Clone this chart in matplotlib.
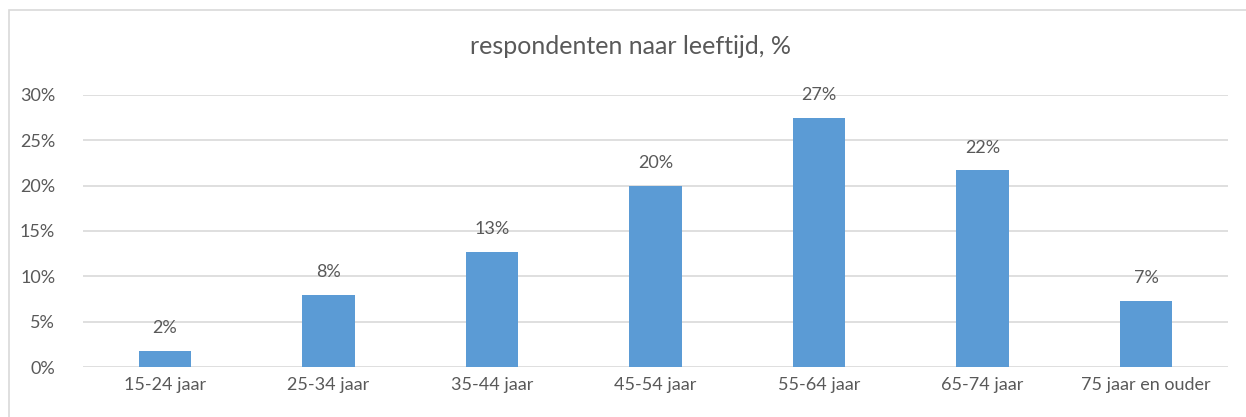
import matplotlib.pyplot as plt
from matplotlib.patches import Rectangle

# data
categories = ['15-24 jaar', '25-34 jaar', '35-44 jaar', '45-54 jaar',
              '55-64 jaar', '65-74 jaar', '75 jaar en ouder']
values = [1.75, 7.95, 12.7, 20.0, 27.45, 21.7, 7.3]
labels = ['2%', '8%', '13%', '20%', '27%', '22%', '7%']
yticks = [0, 5, 10, 15, 20, 25, 30]

plt.rcParams['font.family'] = ['Lato', 'DejaVu Sans']
txt = '#595959'
fs = 13

fig = plt.figure(figsize=(12.46, 4.17), dpi=100)

# light chart frame (Excel style), only top and left visible
fig.patches.append(Rectangle((9 / 1246, -0.1), 1.2, 1.1 - 10 / 417,
                             transform=fig.transFigure, fill=False,
                             edgecolor='#D9D9D9', linewidth=1.2))

ax = fig.add_axes([83 / 1246, 1 - 367 / 417, (1228 - 83) / 1246, (367 - 95) / 417])

x = range(len(categories))
ax.bar(x, values, width=0.32, color='#5B9BD5', zorder=3)

for xi, v, lab in zip(x, values, labels):
    ax.text(xi, v + 2.5, lab, ha='center', va='center', fontsize=fs, color=txt)

ax.set_xlim(-0.5, len(categories) - 0.5)
ax.set_ylim(0, 30)
ax.set_yticks(yticks)
ax.set_yticklabels([f'{t}%' for t in yticks])
ax.set_xticks(list(x))
ax.set_xticklabels(categories)
ax.tick_params(axis='both', length=0, labelsize=fs, labelcolor=txt)
ax.tick_params(axis='y', pad=20)
ax.tick_params(axis='x', pad=7)

ax.grid(axis='y', color='#D9D9D9', linewidth=1.2, zorder=0)
for s in ax.spines.values():
    s.set_visible(False)

fig.text(631 / 1246, 1 - 46 / 417, 'respondenten naar leeftijd, %', ha='center', va='center',
         fontsize=18, color=txt)

fig.savefig('out.png', dpi=100)
